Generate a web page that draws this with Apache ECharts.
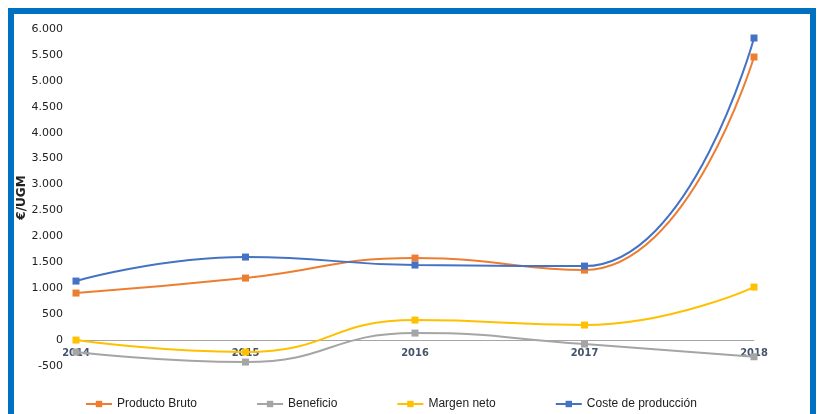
<!DOCTYPE html>
<html><head><meta charset="utf-8">
<script src="https://cdn.jsdelivr.net/npm/echarts@6/dist/echarts.min.js"></script>
<style>html,body{margin:0;padding:0;background:#fff}#c{width:819px;height:414px}</style>
</head><body><div id="c"></div>
<script>
const categories = ['2014','2015','2016','2017','2018'];
const productoBruto = [907, 1196, 1582, 1350, 5460];
const beneficio = [-231, -424, 135, -77, -322];
const margenNeto = [0, -231, 386, 290, 1022];
const costeProduccion = [1138, 1601, 1447, 1427, 5826];
const seriesNames = ['Producto Bruto','Beneficio','Margen neto','Coste de producción'];
const colors = ['#ed7d31','#a5a5a5','#ffc000','#4472c4'];

const chart = echarts.init(document.getElementById('c'));
const mk = (name, data, color) => ({
  name, type: 'line', data, smooth: 0.5, symbol: 'rect', symbolSize: 7,
  itemStyle: {color}, lineStyle: {color, width: 2}
});
chart.setOption({
  animation: false,
  color: colors,
  textStyle: {fontFamily: 'DejaVu Sans'},
  graphic: [{type: 'rect', shape: {x: 11, y: 11, width: 802, height: 420},
    style: {fill: 'none', stroke: '#0070c0', lineWidth: 6}, z: 10}],
  grid: {left: 76, right: 65, top: 29, bottom: 48, outerBoundsMode: 'none', containLabel: false},
  legend: {
    bottom: -1, left: 80, itemGap: 59, itemWidth: 26, itemHeight: 8,
    textStyle: {fontSize: 12, color: '#222', fontFamily: 'Liberation Sans'},
    data: seriesNames
  },
  xAxis: {
    type: 'category', data: categories, boundaryGap: false,
    offset: -26,
    axisLine: {onZero: false, lineStyle: {color: '#a6a6a6', width: 1}},
    axisTick: {show: false},
    axisLabel: {color: '#44546a', fontWeight: 'bold', fontSize: 11, fontFamily: 'DejaVu Sans Condensed', margin: 8}
  },
  yAxis: {
    type: 'value', min: -500, max: 6000, interval: 500,
    name: '€/UGM', nameLocation: 'middle', nameGap: 48, nameRotate: 90,
    nameMoveOverlap: false,
    nameTextStyle: {fontWeight: 'bold', fontSize: 12, color: '#222'},
    axisLine: {show: false}, axisTick: {show: false}, splitLine: {show: false},
    axisLabel: {color: '#222', fontSize: 11, margin: 13,
      formatter: v => v.toLocaleString('de-DE')}
  },
  series: [
    mk(seriesNames[0], productoBruto, colors[0]),
    mk(seriesNames[1], beneficio, colors[1]),
    mk(seriesNames[2], margenNeto, colors[2]),
    mk(seriesNames[3], costeProduccion, colors[3])
  ]
});
</script></body></html>
